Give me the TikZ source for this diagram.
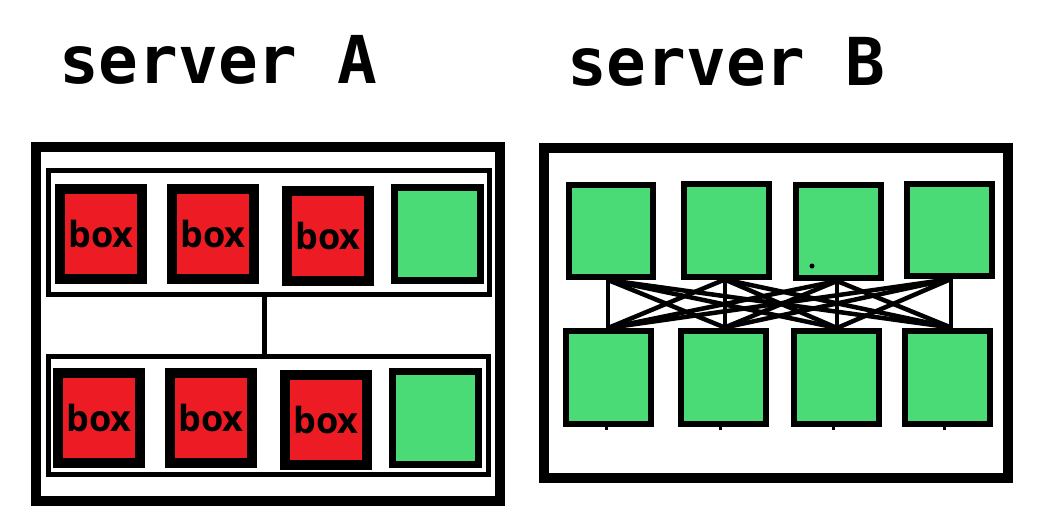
\documentclass[tikz,border=0pt]{standalone}
\usepackage{fontspec}
\usetikzlibrary{calc}
\newfontfamily\titlefont{DejaVu Sans Mono}
\newfontfamily\boxfont{Open Sans}
\definecolor{boxred}{RGB}{237,28,36}
\definecolor{boxgreen}{RGB}{74,219,118}
\tikzset{
  titletext/.style={anchor=base west, inner sep=0pt, font=\titlefont\bfseries\fontsize{66}{66}\selectfont},
  outerframe/.style={draw, line width=10pt, inner sep=0pt},
  rowframe/.style={draw, line width=5pt, inner sep=0pt},
  redbox/.style={draw, fill=boxred, line width=10pt, minimum width=82pt, minimum height=90pt, inner sep=0pt, font=\boxfont\bfseries\fontsize{36}{36}\selectfont},
  greenA/.style={draw, fill=boxgreen, line width=7pt, minimum width=85.5pt, minimum height=93pt, inner sep=0pt},
  greenB/.style={draw, fill=boxgreen, line width=6pt, minimum width=84.5pt, minimum height=93pt, inner sep=0pt},
  link/.style={line width=4.5pt},
}
\begin{document}
\begin{tikzpicture}[x=1pt,y=-1pt]
\path[use as bounding box, fill=white] (0,0) rectangle (1051,531);
% titles
\node[titletext] (tA) at (59,83) {server A};
\node[titletext] (tB) at (567,85) {server B};
% ---------- server A ----------
\node[outerframe, minimum width=464pt, minimum height=354pt] (frameA) at (268,324) {};
\node[rowframe, minimum width=441pt, minimum height=123.5pt] (rowA1) at (269,232.25) {};
\node[rowframe, minimum width=440pt, minimum height=118pt] (rowA2) at (268.5,415.5) {};
\draw[line width=4.5pt] ($(rowA1.south)+(-4.5,0)$) coordinate (ca) -- (ca |- rowA2.north);
\node[redbox] (a1) at (101,234) {box};
\node[redbox] (a2) at (213,234) {box};
\node[redbox] (a3) at (328,236) {box};
\node[greenA] (a4) at (437.25,234) {};
\node[redbox] (a5) at (99,418) {box};
\node[redbox] (a6) at (211,418) {box};
\node[redbox] (a7) at (326,420) {box};
\node[greenA] (a8) at (435.25,418) {};
% ---------- server B ----------
\node[outerframe, minimum width=464pt, minimum height=330pt] (frameB) at (776,313) {};
\node[greenB, minimum width=84pt, minimum height=92pt] (t1) at (611,231) {};
\node[greenB] (t2) at (726.25,230) {};
\node[greenB, minimum height=93pt] (t3) at (838.5,231.5) {};
\node[greenB, minimum height=92.5pt] (t4) at (949.5,229.75) {};
\node[greenB, minimum width=85pt] (b1) at (608,377.5) {};
\node[greenB, minimum height=93.5pt] (b2) at (723.25,377.25) {};
\node[greenB, minimum width=85.5pt] (b3) at (836.25,377.5) {};
\node[greenB, minimum height=93.5pt] (b4) at (947.5,377.25) {};
\fill (812,266) circle (2.5pt);
% attachment points
\coordinate (p1) at ($(t1.south)+(-3,0)$);
\coordinate (p2) at ($(t2.south)+(-1.5,0)$);
\coordinate (p3) at ($(t3.south)+(-1.5,0)$);
\coordinate (p4) at ($(t4.south)+(1.5,0)$);
\coordinate (q1) at (p1 |- b1.north);
\coordinate (q2) at (p2 |- b2.north);
\coordinate (q3) at (p3 |- b3.north);
\coordinate (q4) at (p4 |- b4.north);
\foreach \i in {1,2,3,4}{
  \foreach \j in {1,2,3,4}{
    \draw[link] (p\i) -- (q\j);
  }
}
% small marks under lower boxes
\foreach \k/\dx in {1/-2,2/-3,3/-3,4/-3}{
  \draw[line width=3pt] ($(b\k.south)+(\dx,0)$) -- ++(0,3);
}
\end{tikzpicture}
\end{document}
